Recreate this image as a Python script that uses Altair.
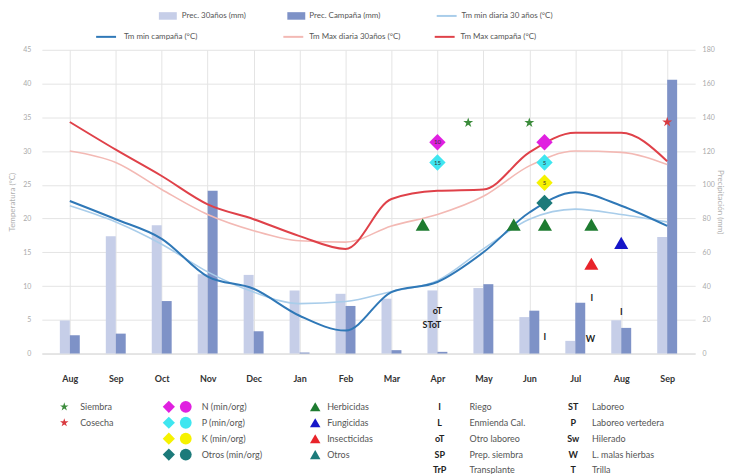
import altair as alt
import pandas as pd

# ---------------- data ----------------
months = ["Aug", "Sep", "Oct", "Nov", "Dec", "Jan", "Feb", "Mar", "Apr", "May", "Jun", "Jul", "Aug", "Sep"]
prec_30 = [19.6, 69.5, 76, 47, 46.6, 37.4, 35.4, 32.5, 37.4, 38.8, 21.6, 7.5, 19.7, 69]
prec_camp = [10.8, 11.8, 31.1, 96.4, 13.2, 0.6, 28.2, 2, 1, 41.1, 25.4, 30.1, 15.2, 162.3]
tmin_30 = [21.9, 19.5, 16.2, 12.1, 9.1, 7.4, 7.7, 9.2, 10.8, 15.5, 19.9, 21.4, 20.6, 19.5]
tmin_camp = [22.6, 19.9, 17.0, 11.4, 9.6, 5.6, 3.4, 9.1, 10.6, 15.0, 20.9, 23.9, 21.9, 18.9]
tmax_30 = [30.0, 28.3, 24.3, 20.6, 18.2, 16.7, 16.5, 18.9, 20.6, 23.3, 27.8, 30.0, 29.8, 28.0]
tmax_camp = [34.3, 30.2, 26.3, 22.1, 19.9, 17.4, 15.5, 22.9, 24.1, 24.3, 29.8, 32.7, 32.7, 28.5]

# events (x in month units, Aug = 0.5 ... Sep = 13.5)
siembra_x = [9.17, 10.5]
siembra_y = [34.2, 34.2]
cosecha_x = [13.5]
cosecha_y = [34.3]

nutr_x = [8.5, 8.5, 10.83, 10.83, 10.83, 10.83]
nutr_y = [31.3, 28.3, 31.3, 28.3, 25.3, 22.3]
nutr_kind = ["N", "P", "N", "P", "K", "Otros"]
nutr_label = ["10", "15", "", "5", "5", ""]

tri_x = [8.18, 10.16, 10.84, 11.85, 12.5, 11.85]
tri_y = [19.1, 19.1, 19.1, 19.1, 16.4, 13.3]
tri_kind = ["Herbicidas", "Herbicidas", "Herbicidas", "Herbicidas", "Fungicidas", "Insecticidas"]

code_x = [8.5, 8.38, 10.84, 11.86, 11.83, 12.5]
code_y = [6.3, 4.2, 2.5, 8.3, 2.2, 6.2]
code_text = ["oT", "SToT", "I", "I", "W", "I"]

# ---------------- style ----------------
FONT = "Lato"
W, H = 656, 305
X0 = 47.5  # left edge of plot, used for legend layout only
C_P30 = "#c6cee8"
C_PC = "#7e92c7"
C_TMIN30 = "#a9cdea"
C_TMINC = "#2f78b7"
C_TMAX30 = "#f3b9b4"
C_TMAXC = "#df4149"
nutr_colors = {"N": "#e020e0", "P": "#3fe6f0", "K": "#f6f200", "Otros": "#1c7a7a"}
tri_colors = {"Herbicidas": "#1e7b30", "Fungicidas": "#1616c8", "Insecticidas": "#e8232a", "Otros": "#1c7a7a"}
STAR = ("M0,-1L0.2245,-0.309L0.951,-0.309L0.363,0.118L0.588,0.809L0,0.382"
        "L-0.588,0.809L-0.363,0.118L-0.951,-0.309L-0.2245,-0.309Z")
RECT = "M-1,-0.42H1V0.42H-1Z"

xs = [i + 0.5 for i in range(len(months))]
df = pd.DataFrame({"x": xs, "month": months, "p30": prec_30, "pc": prec_camp,
                   "tmin30": tmin_30, "tminc": tmin_camp, "tmax30": tmax_30, "tmaxc": tmax_camp})

month_js = "[" + ",".join('"%s"' % m for m in months) + "]"
x_scale = alt.Scale(domain=[0, len(months)], nice=False, zero=False)
x_axis = alt.Axis(values=xs, labelExpr=month_js + "[floor(datum.value)]", title=None,
                  grid=True, gridColor="#e4e4e4", ticks=False, domain=True, domainColor="#d9d9d9",
                  labelFontWeight="bold", labelFontSize=9, labelColor="#333333", labelPadding=21,
                  labelFont=FONT)
x_enc = alt.X("x:Q", scale=x_scale, axis=x_axis)

t_scale = alt.Scale(domain=[0, 45], nice=False)
p_scale = alt.Scale(domain=[0, 180], nice=False)
t_axis = alt.Axis(values=list(range(0, 50, 5)), title="Temperatura (°C)", grid=True, gridColor="#e4e4e4",
                  ticks=False, domain=False, labelFontSize=7, labelColor="#aaaaaa", labelPadding=11,
                  titleFontSize=8, titleColor="#b0b0b0", titleFontWeight="normal", titlePadding=6,
                  labelFont=FONT, titleFont=FONT)
p_axis = alt.Axis(orient="right", values=list(range(0, 200, 20)), title="Precipitación (mm)", grid=False,
                  ticks=False, domain=False, labelFontSize=7, labelColor="#aaaaaa", labelPadding=7,
                  titleFontSize=8, titleColor="#b0b0b0", titleFontWeight="normal", titlePadding=1,
                  labelFont=FONT, titleFont=FONT)


def ty(field):
    return alt.Y(field, scale=t_scale, axis=t_axis)


base = alt.Chart(df)
bars = alt.layer(
    base.mark_bar(size=10, xOffset=-5, color=C_P30).encode(
        x=x_enc, y=alt.Y("p30:Q", scale=p_scale, axis=p_axis)),
    base.mark_bar(size=10, xOffset=5, color=C_PC).encode(
        x=x_enc, y=alt.Y("pc:Q", scale=p_scale, axis=p_axis)),
)


def tline(field, color, width):
    return base.mark_line(interpolate="monotone", color=color, strokeWidth=width).encode(
        x=x_enc, y=ty(field + ":Q"))


lines = alt.layer(
    tline("tmin30", C_TMIN30, 1.6),
    tline("tmax30", C_TMAX30, 1.6),
    tline("tminc", C_TMINC, 2),
    tline("tmaxc", C_TMAXC, 2),
)

stars_df = pd.DataFrame({"x": siembra_x + cosecha_x, "y": siembra_y + cosecha_y,
                         "c": ["#3c8c3c"] * len(siembra_x) + ["#d93a40"] * len(cosecha_x)})
stars = alt.Chart(stars_df).mark_point(shape=STAR, filled=True, size=110, opacity=1).encode(
    x=x_enc, y=ty("y:Q"), color=alt.Color("c:N", scale=None))

nutr_df = pd.DataFrame({"x": nutr_x, "y": nutr_y, "label": nutr_label,
                        "c": [nutr_colors[k] for k in nutr_kind]})
diamonds = alt.Chart(nutr_df).mark_point(shape="diamond", filled=True, size=270, opacity=1).encode(
    x=x_enc, y=ty("y:Q"), color=alt.Color("c:N", scale=None))
dlabels = alt.Chart(nutr_df).mark_text(fontSize=6, color="#333333", font=FONT).encode(
    x=x_enc, y=ty("y:Q"), text="label:N")

tri_df = pd.DataFrame({"x": tri_x, "y": tri_y, "c": [tri_colors[k] for k in tri_kind]})
tris = alt.Chart(tri_df).mark_point(shape="triangle-up", filled=True, size=200, opacity=1).encode(
    x=x_enc, y=ty("y:Q"), color=alt.Color("c:N", scale=None))

code_df = pd.DataFrame({"x": code_x, "y": code_y, "t": code_text})
codes = alt.Chart(code_df).mark_text(fontSize=9, fontWeight="bold", color="#222222", font=FONT).encode(
    x=x_enc, y=ty("y:Q"), text="t:N")

temp_layer = alt.layer(lines, stars, diamonds, dlabels, tris, codes)
main = alt.layer(bars, temp_layer).resolve_scale(y="independent").properties(width=W, height=H)

# ---------------- top legend ----------------
TOP_H = 37
top_items = pd.DataFrame({
    "x": [174, 303, 454, 112, 300, 452],
    "y": [7, 7, 7, 28, 28, 28],
    "lx": [188, 316, 469, 130, 316, 468],
    "shape": [RECT, RECT, "stroke", "stroke", "stroke", "stroke"],
    "c": [C_P30, C_PC, C_TMIN30, C_TMINC, C_TMAX30, C_TMAXC],
    "label": ["Prec. 30años (mm)", "Prec. Campaña (mm)", "Tm min diaria 30 años (°C)",
              "Tm min campaña (°C)", "Tm Max diaria 30años (°C)", "Tm Max campaña (°C)"],
})
top_items["x"] = top_items["x"] - X0
top_items["lx"] = top_items["lx"] - X0
lx_scale = alt.Scale(domain=[0, W], nice=False, zero=False)
ty_scale = alt.Scale(domain=[0, TOP_H], range=[0, TOP_H], nice=False, zero=False)
top_bar = alt.Chart(top_items[top_items["shape"] == RECT]).mark_point(filled=True, size=324, opacity=1).encode(
    x=alt.X("x:Q", scale=lx_scale, axis=None), y=alt.Y("y:Q", scale=ty_scale, axis=None),
    shape=alt.Shape("shape:N", scale=None), color=alt.Color("c:N", scale=None))
top_line = alt.Chart(top_items[top_items["shape"] != RECT]).mark_point(shape="stroke", filled=False, size=400,
                                                                     strokeWidth=2, opacity=1).encode(
    x=alt.X("x:Q", scale=lx_scale, axis=None), y=alt.Y("y:Q", scale=ty_scale, axis=None),
    color=alt.Color("c:N", scale=None))
top_text = alt.Chart(top_items).mark_text(align="left", fontSize=8, color="#555555", font=FONT).encode(
    x=alt.X("lx:Q", scale=lx_scale, axis=None), y=alt.Y("y:Q", scale=ty_scale, axis=None), text="label:N")
top_legend = alt.layer(top_bar, top_line, top_text).properties(width=W, height=TOP_H)

# ---------------- bottom legend ----------------
BOT_H = 90
row_y = [23.5, 39.5, 55.5, 71.5, 86.5]
sym_rows = []
sym_rows += [(70, row_y[0], STAR, "#3c8c3c", 80), (70, row_y[1], STAR, "#d93a40", 80)]
for i, k in enumerate(["N", "P", "K", "Otros"]):
    sym_rows.append((175, row_y[i], "diamond", nutr_colors[k], 150))
    sym_rows.append((192, row_y[i], "circle", nutr_colors[k], 140))
for i, k in enumerate(["Herbicidas", "Fungicidas", "Insecticidas", "Otros"]):
    sym_rows.append((322, row_y[i], "triangle-up", tri_colors[k], 110))
sym_df = pd.DataFrame(sym_rows, columns=["x", "y", "shape", "c", "s"])
sym_df["x"] = sym_df["x"] - X0

leg_labels = (["Siembra", "Cosecha"] + ["N (min/org)", "P (min/org)", "K (min/org)", "Otros (min/org)"]
              + ["Herbicidas", "Fungicidas", "Insecticidas", "Otros"]
              + ["Riego", "Enmienda Cal.", "Otro laboreo", "Prep. siembra", "Transplante"]
              + ["Laboreo", "Laboreo vertedera", "Hilerado", "L. malas hierbas", "Trilla"])
leg_lx = [86] * 2 + [208] * 4 + [334] * 4 + [477] * 5 + [600] * 5
leg_ly = row_y[:2] + row_y[:4] + row_y[:4] + row_y + row_y
lab_df = pd.DataFrame({"x": [v - X0 for v in leg_lx], "y": leg_ly, "t": leg_labels})

code_keys = ["I", "L", "oT", "SP", "TrP", "ST", "P", "Sw", "W", "T"]
code_kx = [447] * 5 + [581] * 5
code_ky = row_y + row_y
ck_df = pd.DataFrame({"x": [v - X0 for v in code_kx], "y": code_ky, "t": code_keys})

by_scale = alt.Scale(domain=[0, BOT_H], range=[0, BOT_H], nice=False, zero=False)
bot_sym = alt.Chart(sym_df).mark_point(filled=True, opacity=1).encode(
    x=alt.X("x:Q", scale=lx_scale, axis=None), y=alt.Y("y:Q", scale=by_scale, axis=None),
    shape=alt.Shape("shape:N", scale=None), color=alt.Color("c:N", scale=None),
    size=alt.Size("s:Q", scale=None))
bot_lab = alt.Chart(lab_df).mark_text(align="left", fontSize=9, color="#555555", font=FONT).encode(
    x=alt.X("x:Q", scale=lx_scale, axis=None), y=alt.Y("y:Q", scale=by_scale, axis=None), text="t:N")
bot_code = alt.Chart(ck_df).mark_text(align="center", fontSize=9, fontWeight="bold", color="#222222",
                                      font=FONT).encode(
    x=alt.X("x:Q", scale=lx_scale, axis=None), y=alt.Y("y:Q", scale=by_scale, axis=None), text="t:N")
bottom_legend = alt.layer(bot_sym, bot_lab, bot_code).properties(width=W, height=BOT_H)

chart = alt.vconcat(top_legend, main, bottom_legend, spacing=0).properties(
    padding={"left": 0, "top": 0, "right": 4, "bottom": 0}).configure(
    font=FONT, background="white").configure_view(stroke=None)

chart.save("out.html", embed_options={"renderer": "svg", "actions": False})
